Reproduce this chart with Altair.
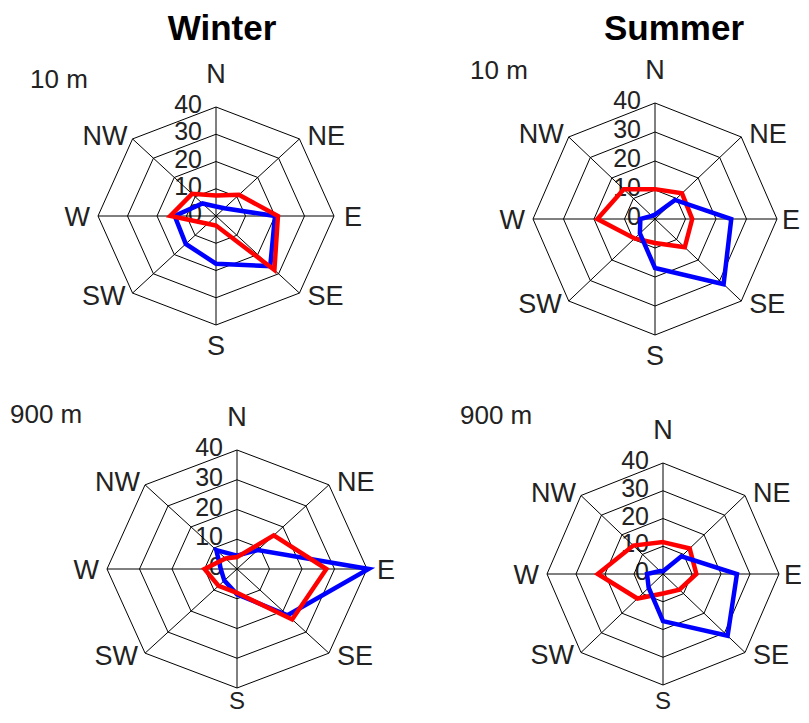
import altair as alt
import pandas as pd

# ---------------- data ----------------
directions = ["N", "NE", "E", "SE", "S", "SW", "W", "NW"]
ring_values = [10, 20, 30, 40]
tick_values = [0, 10, 20, 30, 40]
tick_labels = ["0", "10", "20", "30", "40"]
seasons = ["Winter", "Summer"]
levels = ["10 m", "900 m"]
series_names = ["Series 1", "Series 2"]
series_colors = ["#ff0000", "#0000ff"]

winter_10m_red = [7.5, 11, 21, 28, 3.5, 4, 15.5, 11.5]
winter_10m_blue = [3.5, 4, 20, 26, 17.5, 14.5, 14, 6.5]
summer_10m_red = [10.3, 12.5, 12.2, 13.8, 8.3, 9.5, 18.9, 14.5]
summer_10m_blue = [1.5, 9.3, 25, 31.8, 16.9, 7, 4.8, 1.5]
winter_900m_red = [4, 16, 27.5, 24, 8, 8, 10, 5]
winter_900m_blue = [4.5, 9, 40.5, 22, 8.5, 5.5, 5, 9]
summer_900m_red = [11.5, 13, 11.5, 8, 7, 12.5, 22.5, 14.5]
summer_900m_blue = [1, 9, 25.5, 31.5, 17, 7, 5.5, 1.5]

# ---------------- layout (page pixels) ----------------
FONT = "Liberation Sans"
RMAX = 40
col_x0 = [8, 438]
col_w = [430, 363]
row_y0 = [8, 393]
row_h = [385, 322]

panels = [
    dict(season=0, level=0, red=winter_10m_red, blue=winter_10m_blue,
         cx=216, cy=216, rx=118, ry=109, col=0, row=0, red_top=True,
         s_dy=30, s_size=27, e_dx=10,
         lvl_x=30, lvl_y=88, title_x=222, title_y=40),
    dict(season=1, level=0, red=summer_10m_red, blue=summer_10m_blue,
         cx=655, cy=219, rx=122, ry=116, col=1, row=0, red_top=False,
         s_dy=30, s_size=27, e_dx=5,
         lvl_x=470, lvl_y=79, title_x=674, title_y=40),
    dict(season=0, level=1, red=winter_900m_red, blue=winter_900m_blue,
         cx=237, cy=569, rx=130, ry=119, col=0, row=1, red_top=True,
         s_dy=21, s_size=24, e_dx=10,
         lvl_x=10, lvl_y=423),
    dict(season=1, level=1, red=summer_900m_red, blue=summer_900m_blue,
         cx=663, cy=574, rx=116, ry=111, col=1, row=1, red_top=False,
         s_dy=24, s_size=24, e_dx=5,
         lvl_x=460, lvl_y=424),
]

# label placement per direction: (align, dx, dy)
dir_place = {
    "N": ("center", 0, -24), "S": ("center", 0, 30),
    "E": ("left", 10, 10), "NE": ("left", 8, 6), "SE": ("left", 8, 12),
    "W": ("right", -8, 10), "NW": ("right", -5, 6), "SW": ("right", -7, 12),
}

ring_df = pd.DataFrame(
    [{"r": r, "k": k} for r in ring_values for k in range(len(directions))]
)
spoke_df = pd.DataFrame({"k": list(range(len(directions))), "dir": directions})
tick_df = pd.DataFrame({"v": tick_values, "lab": tick_labels})

POLAR = dict(a="datum.k * PI / 4")


def panel(p):
    kx = p["rx"] / RMAX
    ky = p["ry"] / RMAX
    x0 = col_x0[p["col"]]
    W = col_w[p["col"]]
    y0 = row_y0[p["row"]]
    H = row_h[p["row"]]
    xs = alt.Scale(domain=[(x0 - p["cx"]) / kx, (x0 + W - p["cx"]) / kx], nice=False, zero=False)
    ys = alt.Scale(domain=[(p["cy"] - (y0 + H)) / ky, (p["cy"] - y0) / ky], nice=False, zero=False)

    def X(f):
        return alt.X(f, type="quantitative", scale=xs, axis=None)

    def Y(f):
        return alt.Y(f, type="quantitative", scale=ys, axis=None)

    layers = []

    # tick labels on N axis
    layers.append(
        alt.Chart(tick_df).transform_calculate(x0="0")
        .mark_text(align="right", baseline="alphabetic", dx=-14, dy=6,
                   fontSize=25, font=FONT, color="#222")
        .encode(x=X("x0"), y=Y("v"), text="lab:N")
    )

    # rings
    layers.append(
        alt.Chart(ring_df)
        .transform_calculate(**POLAR)
        .transform_calculate(x="datum.r * sin(datum.a)", y="datum.r * cos(datum.a)")
        .mark_line(interpolate="linear-closed", color="black", strokeWidth=1)
        .encode(x=X("x"), y=Y("y"), detail="r:N", order="k:Q")
    )

    # spokes
    layers.append(
        alt.Chart(spoke_df)
        .transform_calculate(**POLAR)
        .transform_calculate(x0="0", y0="0",
                             x2=f"{RMAX} * sin(datum.a)", y2=f"{RMAX} * cos(datum.a)")
        .mark_rule(color="black", strokeWidth=1)
        .encode(x=X("x0"), y=Y("y0"), x2="x2:Q", y2="y2:Q")
    )

    # series polygons
    sdata = {
        series_names[0]: p["red"],
        series_names[1]: p["blue"],
    }
    order = [series_names[1], series_names[0]] if p["red_top"] else [series_names[0], series_names[1]]
    for name in order:
        df = pd.DataFrame({"k": list(range(len(directions))), "dir": directions,
                           "v": sdata[name], "series": name})
        layers.append(
            alt.Chart(df)
            .transform_calculate(**POLAR)
            .transform_calculate(x="datum.v * sin(datum.a)", y="datum.v * cos(datum.a)")
            .mark_line(interpolate="linear-closed", strokeWidth=4.5, strokeJoin="miter")
            .encode(x=X("x"), y=Y("y"), order="k:Q",
                    color=alt.Color("series:N", scale=alt.Scale(domain=series_names, range=series_colors),
                                    legend=None))
        )

    # direction labels
    for d in directions:
        align, dx, dy = dir_place[d]
        size = 27
        if d == "S":
            dy = p["s_dy"]
            size = p["s_size"]
        if d == "E":
            dx = p["e_dx"]
        layers.append(
            alt.Chart(spoke_df)
            .transform_filter(alt.datum.dir == d)
            .transform_calculate(**POLAR)
            .transform_calculate(x=f"{RMAX} * sin(datum.a)", y=f"{RMAX} * cos(datum.a)")
            .mark_text(align=align, baseline="alphabetic", dx=dx, dy=dy, clip=True,
                       fontSize=size, font=FONT, color="#222")
            .encode(x=X("x"), y=Y("y"), text="dir:N")
        )

    # level label (e.g. "10 m")
    layers.append(
        alt.Chart(pd.DataFrame({"t": [levels[p["level"]]]}))
        .mark_text(align="left", baseline="alphabetic", fontSize=26, font=FONT, color="#222")
        .encode(x=alt.value(p["lvl_x"] - x0), y=alt.value(p["lvl_y"] - y0), text="t:N")
    )

    # season title on top row
    if "title_x" in p:
        layers.append(
            alt.Chart(pd.DataFrame({"t": [seasons[p["season"]]]}))
            .mark_text(align="center", baseline="alphabetic", fontSize=35, fontWeight="bold",
                       font=FONT, color="black")
            .encode(x=alt.value(p["title_x"] - x0), y=alt.value(p["title_y"] - y0), text="t:N")
        )

    return alt.layer(*layers).properties(width=W, height=H)


chart = (
    alt.concat(*[panel(p) for p in panels], columns=2, spacing=0, bounds="flush")
    .properties(padding=0)
    .configure_view(stroke=None)
)

chart.save("out.html", embed_options={"renderer": "svg", "actions": False})
